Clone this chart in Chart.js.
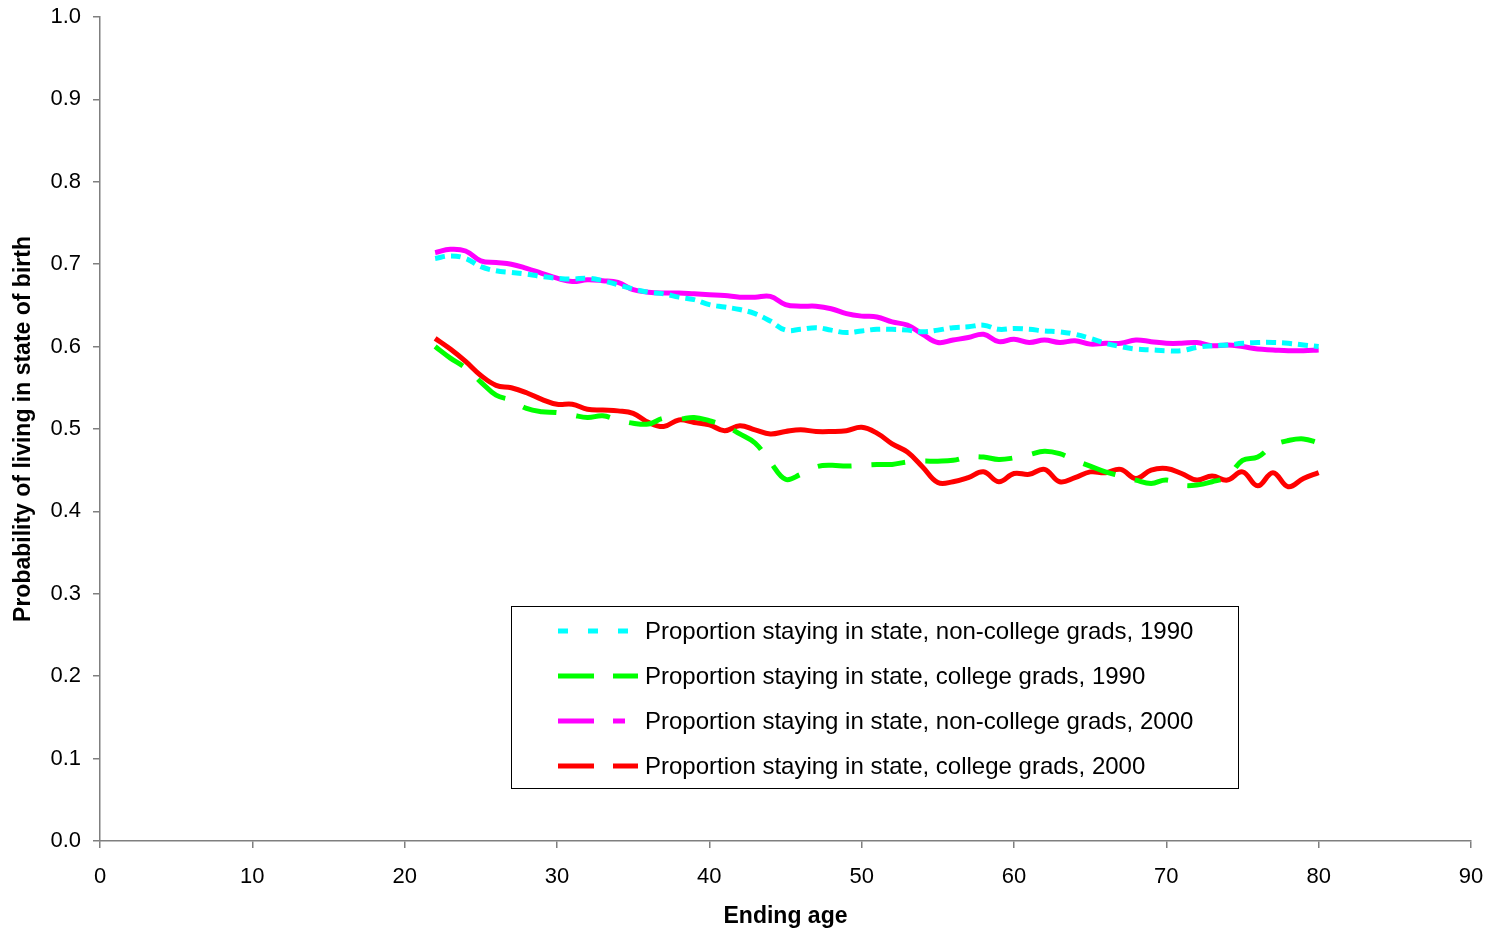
<!DOCTYPE html>
<html>
<head>
<meta charset="utf-8">
<script src="https://cdn.jsdelivr.net/npm/chart.js@4"></script>
<style>
  html, body { margin: 0; padding: 0; background: #fff; }
  #wrap { width: 1493px; height: 932px; }
</style>
</head>
<body>
<div id="wrap"><canvas id="chart"></canvas></div>
<script>
// ----------------------------- data
const ages = [22, 23, 24, 25, 26, 27, 28, 29, 30, 31, 32, 33, 34, 35, 36, 37, 38, 39, 40,
    41, 42, 43, 44, 45, 46, 47, 48, 49, 50, 51, 52, 53, 54, 55, 56, 57, 58, 59, 60,
    61, 62, 63, 64, 65, 66, 67, 68, 69, 70, 71, 72, 73, 74, 75, 76, 77, 78, 79, 80];

const nonCollege1990 = [0.707, 0.710, 0.707, 0.697, 0.692, 0.690, 0.688, 0.685, 0.683, 0.682,
    0.683, 0.680, 0.675, 0.670, 0.666, 0.664, 0.660, 0.657, 0.651, 0.648,
    0.645, 0.640, 0.631, 0.620, 0.621, 0.623, 0.620, 0.617, 0.619, 0.621,
    0.621, 0.620, 0.618, 0.620, 0.623, 0.624, 0.626, 0.621, 0.622, 0.621,
    0.619, 0.618, 0.615, 0.610, 0.604, 0.600, 0.597, 0.596, 0.595, 0.595,
    0.599, 0.601, 0.602, 0.604, 0.605, 0.605, 0.604, 0.602, 0.600];

const college1990 = [0.600, 0.586, 0.574, 0.557, 0.541, 0.535, 0.525, 0.521, 0.520, 0.517,
    0.514, 0.516, 0.511, 0.507, 0.506, 0.513, 0.512, 0.514, 0.510, 0.504,
    0.494, 0.483, 0.460, 0.439, 0.445, 0.454, 0.456, 0.455, 0.456, 0.457,
    0.457, 0.460, 0.461, 0.461, 0.462, 0.466, 0.466, 0.463, 0.465, 0.469,
    0.473, 0.470, 0.462, 0.455, 0.448, 0.443, 0.438, 0.434, 0.438, 0.432,
    0.432, 0.436, 0.442, 0.462, 0.466, 0.480, 0.486, 0.488, 0.483];

const nonCollege2000 = [0.714, 0.718, 0.716, 0.704, 0.702, 0.700, 0.695, 0.689, 0.683, 0.679,
    0.681, 0.680, 0.678, 0.669, 0.666, 0.665, 0.665, 0.664, 0.663, 0.662,
    0.660, 0.660, 0.661, 0.651, 0.649, 0.649, 0.646, 0.640, 0.637, 0.636,
    0.630, 0.626, 0.615, 0.605, 0.608, 0.611, 0.615, 0.606, 0.609, 0.605,
    0.608, 0.605, 0.607, 0.603, 0.604, 0.604, 0.608, 0.606, 0.604, 0.604,
    0.605, 0.601, 0.602, 0.600, 0.597, 0.596, 0.595, 0.595, 0.596];

const college2000 = [0.610, 0.597, 0.582, 0.565, 0.553, 0.550, 0.544, 0.536, 0.530, 0.530,
    0.524, 0.523, 0.522, 0.519, 0.508, 0.503, 0.511, 0.508, 0.505, 0.498,
    0.504, 0.499, 0.494, 0.497, 0.499, 0.497, 0.497, 0.498, 0.502, 0.495,
    0.482, 0.472, 0.454, 0.435, 0.436, 0.441, 0.448, 0.436, 0.446, 0.445,
    0.451, 0.436, 0.441, 0.448, 0.447, 0.451, 0.440, 0.450, 0.452, 0.446,
    0.438, 0.443, 0.438, 0.448, 0.431, 0.447, 0.430, 0.440, 0.447];

const seriesLabels = [
    "Proportion staying in state, non-college grads, 1990",
    "Proportion staying in state, college grads, 1990",
    "Proportion staying in state, non-college grads, 2000",
    "Proportion staying in state, college grads, 2000"
];

const xTicks = [0, 10, 20, 30, 40, 50, 60, 70, 80, 90];
const yTicks = [0.0, 0.1, 0.2, 0.3, 0.4, 0.5, 0.6, 0.7, 0.8, 0.9, 1.0];

// ----------------------------- helpers
const FONT = "'Liberation Sans', Arial, sans-serif";
const AXIS_GREY = "#7f7f7f";

function toPoints(values) {
    return ages.map((a, i) => ({ x: a, y: values[i] }));
}

// Legend box drawn inside the plot, like the Excel original
const boxLegend = {
    id: "boxLegend",
    afterDraw(chart) {
        const ctx = chart.ctx;
        const bx = 511.5, by = 606.5, bw = 727, bh = 182;
        ctx.save();
        ctx.fillStyle = "#fff";
        ctx.fillRect(bx, by, bw, bh);
        ctx.strokeStyle = "#000";
        ctx.lineWidth = 1;
        ctx.strokeRect(bx, by, bw, bh);

        ctx.font = "24px " + FONT;
        ctx.textBaseline = "middle";
        chart.data.datasets.forEach((ds, i) => {
            const y = 631 + i * 45;
            ctx.strokeStyle = ds.borderColor;
            ctx.lineWidth = 5;
            ctx.lineCap = "butt";
            ctx.setLineDash(ds.legendDash);
            ctx.beginPath();
            ctx.moveTo(558, y);
            ctx.lineTo(638, y);
            ctx.stroke();
            ctx.setLineDash([]);
            ctx.fillStyle = "#000";
            ctx.fillText(ds.label, 645, y + 1);
        });
        ctx.restore();
    }
};

// ----------------------------- chart
const ctx = document.getElementById("chart").getContext("2d");
new Chart(ctx, {
    type: "line",
    data: {
        datasets: [
            {
                label: seriesLabels[0],
                data: toPoints(nonCollege1990),
                borderColor: "#00ffff",
                borderWidth: 5,
                borderDash: [10, 6],
                legendDash: [10, 20],
                tension: 0.4
            },
            {
                label: seriesLabels[1],
                data: toPoints(college1990),
                borderColor: "#00ff00",
                borderWidth: 5,
                borderDash: [34, 20],
                legendDash: [36, 19],
                tension: 0.4
            },
            {
                label: seriesLabels[2],
                data: toPoints(nonCollege2000),
                borderColor: "#ff00ff",
                borderWidth: 5,
                legendDash: [36, 19, 12, 100],
                tension: 0.4
            },
            {
                label: seriesLabels[3],
                data: toPoints(college2000),
                borderColor: "#ff0000",
                borderWidth: 5,
                legendDash: [36, 19],
                tension: 0.4
            }
        ]
    },
    options: {
        responsive: true,
        maintainAspectRatio: false,
        animation: false,
        elements: { point: { radius: 0 } },
        layout: { padding: { top: 17, right: 22, left: 0, bottom: 0 } },
        plugins: {
            legend: { display: false },
            tooltip: { enabled: false }
        },
        scales: {
            x: {
                type: "linear",
                min: 0,
                max: 90,
                afterBuildTicks: axis => { axis.ticks = xTicks.map(v => ({ value: v })); },
                afterFit: axis => {
                    axis.height = 91;
                    axis.paddingLeft = 0;
                    axis.paddingRight = 0;
                },
                grid: { drawOnChartArea: false, color: AXIS_GREY, tickLength: 7, lineWidth: 1.5 },
                border: { color: AXIS_GREY, width: 1.5 },
                ticks: { color: "#000", font: { family: FONT, size: 22 }, padding: 16, maxRotation: 0 },
                title: {
                    display: true,
                    text: "Ending age",
                    color: "#000",
                    font: { family: FONT, size: 23, weight: "bold" },
                    padding: { top: 0, bottom: 2 }
                }
            },
            y: {
                min: 0,
                max: 1,
                afterBuildTicks: axis => { axis.ticks = yTicks.map(v => ({ value: v })); },
                afterFit: axis => {
                    axis.width = 100;
                    axis.paddingTop = 0;
                    axis.paddingBottom = 0;
                },
                grid: { drawOnChartArea: false, color: AXIS_GREY, tickLength: 7, lineWidth: 1.5 },
                border: { color: AXIS_GREY, width: 1.5 },
                ticks: {
                    color: "#000",
                    font: { family: FONT, size: 22 },
                    padding: 12,
                    callback: v => v.toFixed(1)
                },
                title: {
                    display: true,
                    text: "Probability of living in state of birth",
                    color: "#000",
                    font: { family: FONT, size: 23, weight: "bold" },
                    padding: { top: 10, bottom: 0 }
                }
            }
        }
    },
    plugins: [boxLegend]
});
</script>
</body>
</html>
